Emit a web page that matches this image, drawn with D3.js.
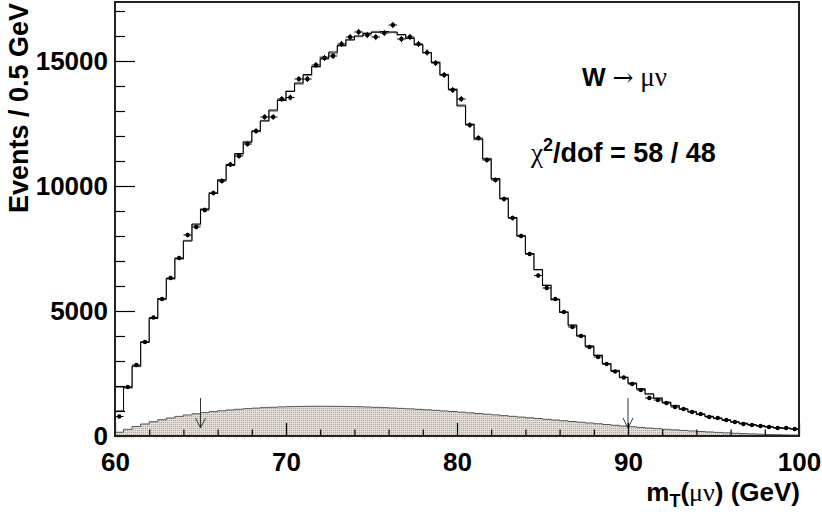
<!DOCTYPE html>
<html>
<head>
<meta charset="utf-8">
<script src="https://cdn.jsdelivr.net/npm/d3@7"></script>
<style>
  body { margin: 0; background: #fff; }
  svg { display: block; }
  text { font-family: "Liberation Sans", Arial, sans-serif; font-weight: bold; fill: #000; }
  .greek { font-family: "Liberation Serif", "Times New Roman", serif; font-weight: normal; }
  .arrowsym { font-family: "DejaVu Serif", serif; font-weight: normal; }
</style>
</head>
<body>
<script>
"use strict";

// binning: 80 bins of 0.5 GeV from 60 to 100
var xMin = 60, xMax = 100, binWidth = 0.5;

// data points (events per bin)
var dataCounts = [
  780, 1960, 2840, 3760, 4740, 5480, 6320, 7120, 8040, 8360,
  9040, 9720, 10200, 10860, 11200, 11680, 12200, 12760, 12760, 13480,
  13540, 14280, 14280, 14840, 15120, 15200, 15680, 15960, 16160, 16040,
  15960, 16120, 16440, 15880, 15960, 15680, 15340, 14920, 14440, 13840,
  13480, 12440, 11920, 11040, 10240, 9480, 8720, 8000, 7280, 6420,
  5920, 5480, 4960, 4360, 4000, 3560, 3160, 2880, 2580, 2340,
  2080, 1840, 1520, 1440, 1320, 1160, 1080, 960, 880, 760,
  720, 640, 560, 480, 440, 400, 360, 320, 320, 280
];

// fitted template (black histogram)
var fitCounts = [
  1000, 1950, 2800, 3750, 4700, 5500, 6300, 7100, 7800, 8480,
  9080, 9700, 10250, 10820, 11300, 11750, 12200, 12600, 13040, 13420,
  13780, 14120, 14460, 14780, 15080, 15360, 15620, 15840, 16000, 16100,
  16150, 16180, 16160, 16060, 15900, 15660, 15340, 14940, 14440, 13860,
  13200, 12460, 11880, 11080, 10300, 9500, 8740, 8000, 7300, 6660,
  6020, 5460, 4940, 4440, 4000, 3600, 3220, 2900, 2610, 2350,
  2110, 1890, 1690, 1510, 1350, 1210, 1080, 970, 870, 780,
  700, 630, 565, 505, 455, 410, 370, 335, 305, 280
];

// simulation (grey histogram)
var simCounts = [
  1950, 1920, 2780, 3760, 4720, 5460, 6280, 7080, 7820, 8440,
  9060, 9720, 10220, 10860, 11260, 11780, 12180, 12620, 13000, 13440,
  13800, 14080, 14420, 14760, 15160, 15300, 15600, 15860, 15980, 16120,
  16180, 16160, 16140, 16040, 15920, 15640, 15320, 14960, 14460, 13880,
  13240, 12480, 11860, 11100, 10280, 9520, 8720, 8020, 7280, 6640,
  6040, 5440, 4960, 4420, 4020, 3580, 3240, 2880, 2620, 2340,
  2120, 1880, 1660, 1520, 1340, 1220, 1070, 980, 860, 790,
  700, 640, 560, 510, 450, 410, 370, 330, 305, 280
];

// background (shaded)
var bkgCounts = [
  150, 270, 380, 480, 570, 650, 720, 785, 840, 890,
  935, 975, 1010, 1040, 1070, 1095, 1115, 1135, 1150, 1165,
  1175, 1182, 1188, 1190, 1190, 1188, 1184, 1178, 1170, 1160,
  1148, 1135, 1120, 1104, 1087, 1068, 1048, 1026, 1003, 980,
  955, 928, 900, 872, 844, 815, 786, 757, 728, 699,
  670, 640, 610, 580, 550, 520, 490, 460, 430, 400,
  372, 344, 318, 292, 268, 245, 222, 201, 181, 162,
  144, 127, 111, 97, 84, 72, 61, 52, 44, 37
];

// fit window arrows
var arrowX = [65, 90];
var arrowTop = 1520, arrowTip = 320;

// tick values
var xMajor = [60, 70, 80, 90, 100];
var xMinor = [62, 64, 66, 68, 72, 74, 76, 78, 82, 84, 86, 88, 92, 94, 96, 98];
var yMajor = [0, 5000, 10000, 15000];
var yMinor = [1000, 2000, 3000, 4000, 6000, 7000, 8000, 9000, 11000, 12000, 13000, 14000, 16000, 17000];

// dimensions and margins of the graph
var margin = {top: 2, right: 23, bottom: 76, left: 115},
    width = 822 - margin.left - margin.right,
    height = 512 - margin.top - margin.bottom;

var x = d3.scaleLinear().domain([xMin, xMax]).range([0, width]);
var y = d3.scaleLinear().domain([0, 17360]).range([height, 0]);

var svgRoot = d3.select("body").append("svg")
    .attr("width", 822)
    .attr("height", 512);

// dotted fill for the background histogram
var pat = svgRoot.append("defs").append("pattern")
    .attr("id", "dots")
    .attr("width", 2).attr("height", 2)
    .attr("patternUnits", "userSpaceOnUse");
pat.append("rect").attr("width", 2).attr("height", 2).attr("fill", "#e3dfd8");
pat.append("rect").attr("width", 1).attr("height", 1).attr("fill", "#aaa59e");

var svg = svgRoot.append("g")
    .attr("transform", "translate(" + margin.left + "," + margin.top + ")");

// step outline of a histogram
function stepPoints(vals) {
  var pts = [[xMin, 0]];
  vals.forEach(function(v, i) {
    var lo = xMin + i * binWidth;
    pts.push([lo, v]);
    pts.push([lo + binWidth, v]);
  });
  pts.push([xMax, 0]);
  return pts;
}

var stepLine = d3.line()
    .x(function(d) { return x(d[0]); })
    .y(function(d) { return y(d[1]); });

// background
svg.append("path")
    .datum(stepPoints(bkgCounts))
    .attr("d", stepLine)
    .attr("fill", "url(#dots)")
    .attr("stroke", "#555")
    .attr("stroke-width", 1);

// grey simulation histogram
svg.append("path")
    .datum(stepPoints(simCounts))
    .attr("d", stepLine)
    .attr("fill", "none")
    .attr("stroke", "#8a8a8a")
    .attr("stroke-width", 1.3);

// black fit histogram
svg.append("path")
    .datum(stepPoints(fitCounts))
    .attr("d", stepLine)
    .attr("fill", "none")
    .attr("stroke", "#000")
    .attr("stroke-width", 1);

// data points with error bars
var pts = svg.append("g").selectAll("g")
    .data(dataCounts)
  .enter().append("g");

pts.append("line")
    .attr("x1", function(d, i) { return x(xMin + i * binWidth); })
    .attr("x2", function(d, i) { return x(xMin + (i + 1) * binWidth); })
    .attr("y1", function(d) { return y(d); })
    .attr("y2", function(d) { return y(d); })
    .attr("stroke", "#000").attr("stroke-width", 1);

pts.append("line")
    .attr("x1", function(d, i) { return x(xMin + (i + 0.5) * binWidth); })
    .attr("x2", function(d, i) { return x(xMin + (i + 0.5) * binWidth); })
    .attr("y1", function(d) { return y(d - Math.sqrt(d)); })
    .attr("y2", function(d) { return y(d + Math.sqrt(d)); })
    .attr("stroke", "#000").attr("stroke-width", 1);

pts.append("circle")
    .attr("cx", function(d, i) { return x(xMin + (i + 0.5) * binWidth); })
    .attr("cy", function(d) { return y(d); })
    .attr("r", 2.2)
    .attr("fill", "#000");

// arrows marking the fit range
var arr = svg.append("g").selectAll("g")
    .data(arrowX)
  .enter().append("g")
    .attr("stroke", "#333").attr("stroke-width", 1).attr("fill", "none");

arr.append("line")
    .attr("x1", function(d) { return x(d); })
    .attr("x2", function(d) { return x(d); })
    .attr("y1", y(arrowTop))
    .attr("y2", y(arrowTip));

arr.append("path")
    .attr("d", function(d) {
      var xt = x(d), yt = y(arrowTip);
      return "M" + (xt - 5) + "," + (yt - 10) + "L" + xt + "," + yt + "L" + (xt + 5) + "," + (yt - 10);
    });

// axes: minor ticks first, then major ticks with labels
svg.append("g")
    .attr("transform", "translate(0," + height + ")")
    .call(d3.axisBottom(x).tickValues(xMinor).tickSize(-6.5).tickSizeOuter(0).tickFormat(""))
    .call(function(g) { g.select(".domain").remove(); });

svg.append("g")
    .attr("class", "xmaj")
    .attr("transform", "translate(0," + height + ")")
    .call(d3.axisBottom(x).tickValues(xMajor).tickSize(-13).tickSizeOuter(0).tickPadding(17).tickFormat(d3.format("d")))
    .call(function(g) { g.select(".domain").remove(); });

svg.append("g")
    .call(d3.axisLeft(y).tickValues(yMinor).tickSize(-10).tickSizeOuter(0).tickFormat(""))
    .call(function(g) { g.select(".domain").remove(); });

svg.append("g")
    .attr("class", "ymaj")
    .call(d3.axisLeft(y).tickValues(yMajor).tickSize(-20).tickSizeOuter(0).tickPadding(7).tickFormat(d3.format("d")))
    .call(function(g) { g.select(".domain").remove(); });

svg.selectAll(".tick line").attr("stroke", "#000").attr("stroke-width", 1.2);
svg.selectAll(".xmaj text, .ymaj text")
    .attr("font-family", "Liberation Sans, Arial, sans-serif")
    .attr("font-weight", "bold")
    .attr("font-size", 26)
    .attr("fill", "#000");
svg.selectAll(".xmaj text").attr("dy", "0.71em");
svg.selectAll(".ymaj text").attr("dy", "0.34em");

// frame
svg.append("rect")
    .attr("width", width).attr("height", height)
    .attr("fill", "none")
    .attr("stroke", "#222")
    .attr("stroke-width", 2);

// axis titles
svgRoot.append("text")
    .attr("transform", "translate(28," + (margin.top + 1) + ") rotate(-90)")
    .attr("text-anchor", "end")
    .attr("font-size", 27)
    .text("Events / 0.5 GeV");

var xt = svgRoot.append("text")
    .attr("x", 800).attr("y", 501)
    .attr("text-anchor", "end")
    .attr("font-size", 26);
xt.append("tspan").text("m");
xt.append("tspan").attr("font-size", 18).attr("dy", 6).text("T");
xt.append("tspan").attr("dy", -6).text("(");
xt.append("tspan").attr("class", "greek").text("\u03bc\u03bd");
xt.append("tspan").text(") (GeV)");

// labels
var lab1 = svgRoot.append("text")
    .attr("x", 582).attr("y", 86)
    .attr("font-size", 25);
lab1.append("tspan").text("W ");
lab1.append("tspan").attr("class", "arrowsym").text("\u2192");
lab1.append("tspan").attr("class", "greek").attr("font-size", 27).text(" \u03bc\u03bd");

var lab2 = svgRoot.append("text")
    .attr("x", 531).attr("y", 162)
    .attr("font-size", 27);
lab2.append("tspan").attr("class", "greek").text("\u03c7");
lab2.append("tspan").attr("font-size", 18).attr("dy", -11).text("2");
lab2.append("tspan").attr("dy", 11).text("/dof = 58 / 48");
</script>
</body>
</html>
